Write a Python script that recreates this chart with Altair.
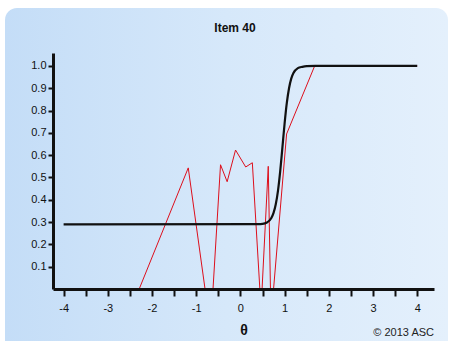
import altair as alt
import pandas as pd

# Model (ICC) curve
icc_theta = [-4, 0.4, 0.5, 0.6, 0.7, 0.75, 0.8, 0.85, 0.9, 0.95, 1.0, 1.05, 1.1, 1.15, 1.2, 1.3, 1.4, 1.5, 1.7, 4]
icc_p = [0.29, 0.291, 0.292, 0.298, 0.318, 0.341, 0.38, 0.44, 0.527, 0.634, 0.742, 0.834, 0.90, 0.943, 0.968, 0.99, 0.996, 0.999, 1.0, 1.0]

obs_theta = [-2.29, -1.18, -0.80, -0.62, -0.45, -0.30, -0.11, 0.12, 0.27, 0.44, 0.49, 0.63, 0.68, 0.75, 1.045, 1.68, 4]
obs_p = [0.0, 0.543, 0.0, 0.0, 0.557, 0.481, 0.623, 0.547, 0.566, 0.0, 0.0, 0.55, 0.0, 0.0, 0.695, 1.0, 1.0]

x_ticks = [-4, -3.5, -3, -2.5, -2, -1.5, -1, -0.5, 0, 0.5, 1, 1.5, 2, 2.5, 3, 3.5, 4]
y_ticks = [0.1, 0.2, 0.3, 0.4, 0.5, 0.6, 0.7, 0.8, 0.9, 1.0]

title_text = "Item 40"
x_title = "θ"
credit = "© 2013 ASC"

W, H = 381, 236
FONT = "Liberation Sans"

icc_df = pd.DataFrame({"theta": icc_theta, "p": icc_p})
obs_df = pd.DataFrame({"theta": obs_theta, "p": obs_p})
cred_df = pd.DataFrame({"t": [credit]})
title_df = pd.DataFrame({"t": [title_text]})

xscale = alt.Scale(domain=[-4.24, 4.38], nice=False, zero=False)
yscale = alt.Scale(domain=[0, 1.058], nice=False, zero=False)

xaxis = alt.Axis(
    values=x_ticks,
    labelExpr="datum.value % 1 === 0 ? ('' + datum.value) : ''",
    title=x_title, titleFont=FONT, titleFontSize=14, titleFontWeight="bold",
    titleColor="#111", titlePadding=10,
    labelFont=FONT, labelFontSize=11, labelColor="#111", labelPadding=6,
    tickSize=7, tickWidth=2, tickColor="#111",
    domainWidth=3, domainColor="#111", grid=False, zindex=2,
)
yaxis = alt.Axis(
    values=y_ticks, format=".1f", title=None,
    labelFont=FONT, labelFontSize=11, labelColor="#111", labelPadding=2,
    tickSize=5, tickWidth=2, tickColor="#111",
    domainWidth=3, domainColor="#111", grid=False, zindex=2,
)

grad = alt.LinearGradient(
    gradient="linear",
    stops=[
        alt.GradientStop(color="#c4ddf7", offset=0),
        alt.GradientStop(color="#d6e8fa", offset=0.5),
        alt.GradientStop(color="#e4f0fc", offset=1),
    ],
    x1=0, x2=1, y1=0, y2=0,
)

bg = alt.Chart(cred_df).mark_rect(fill=grad, cornerRadius=12).encode(
    x=alt.value(-48), x2=alt.value(395), y=alt.value(-45), y2=alt.value(300)
)

obs = alt.Chart(obs_df).mark_line(color="#dd0f1c", strokeWidth=1).encode(
    x=alt.X("theta:Q", scale=xscale, axis=xaxis),
    y=alt.Y("p:Q", scale=yscale, axis=yaxis),
)

icc = alt.Chart(icc_df).mark_line(color="#111111", strokeWidth=2.2, interpolate="monotone").encode(
    x=alt.X("theta:Q", scale=xscale, axis=xaxis),
    y=alt.Y("p:Q", scale=yscale, axis=yaxis),
)

cred = alt.Chart(cred_df).mark_text(
    align="right", baseline="middle", font=FONT, fontSize=11, color="#222"
).encode(x=alt.value(381), y=alt.value(280), text="t:N")

ttl = alt.Chart(title_df).mark_text(
    align="center", baseline="middle", font=FONT, fontSize=12, fontWeight="bold", color="#111"
).encode(x=alt.value(182), y=alt.value(-25), text="t:N")

chart = alt.layer(bg, obs, icc, cred, ttl).properties(
    width=W, height=H,
    autosize=alt.AutoSizeParams(type="none"),
    padding={"left": 53, "top": 53, "right": 15, "bottom": 52},
).configure_view(stroke=None).configure(background="white")

chart.save("out.html", embed_options={"renderer": "svg", "actions": False})
